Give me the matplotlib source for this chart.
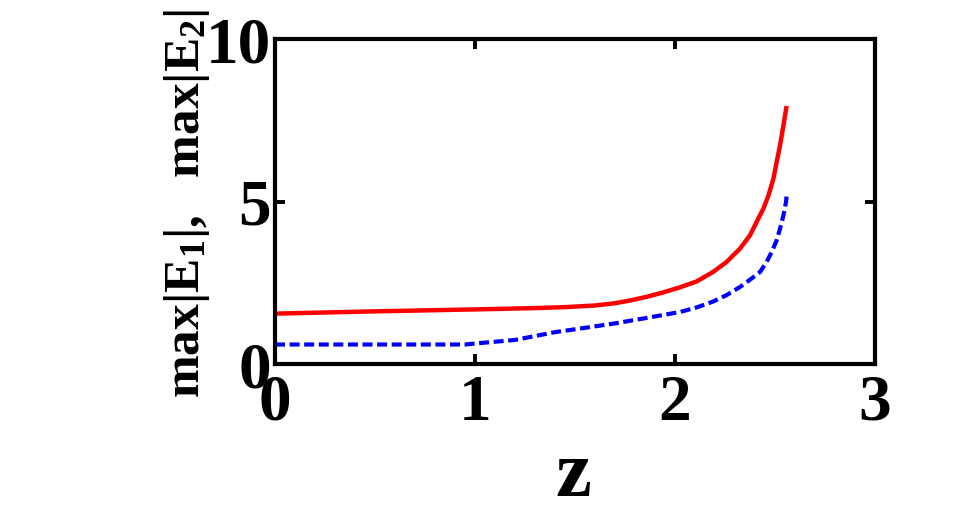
import matplotlib
matplotlib.use("Agg")
import matplotlib.pyplot as plt

# data
z_red = [0, 0.5, 1.0, 1.3, 1.45, 1.6, 1.7, 1.78, 1.86, 1.94, 2.025, 2.108, 2.19, 2.258, 2.325,
         2.375, 2.408, 2.442, 2.467, 2.492, 2.508, 2.525, 2.542, 2.558]
e1_red = [1.55, 1.62, 1.68, 1.72, 1.75, 1.8, 1.87, 1.96, 2.07, 2.2, 2.36, 2.54, 2.83, 3.14, 3.55,
          3.96, 4.37, 4.78, 5.18, 5.70, 6.2, 6.72, 7.33, 7.94]
z_blue = [0, 0.95, 1.0, 1.2, 1.4, 1.525, 1.7, 1.86, 2.025, 2.108, 2.19, 2.258, 2.325,
          2.383, 2.425, 2.458, 2.483, 2.508, 2.525, 2.542, 2.555, 2.558]
e2_blue = [0.6, 0.6, 0.63, 0.74, 0.98, 1.09, 1.25, 1.42, 1.6, 1.74, 1.92, 2.12, 2.37,
           2.63, 2.83, 3.14, 3.44, 3.80, 4.16, 4.57, 4.98, 5.18]
xticks = [0, 1, 2, 3]
yticks = [0, 5, 10]

plt.rcParams['font.family'] = ['Liberation Serif', 'DejaVu Serif']
plt.rcParams['font.weight'] = 'bold'
plt.rcParams['mathtext.fontset'] = 'custom'
plt.rcParams['mathtext.rm'] = 'Liberation Serif:bold'
plt.rcParams['mathtext.bf'] = 'Liberation Serif:bold'
plt.rcParams['mathtext.it'] = 'Liberation Serif:bold'

fig = plt.figure(figsize=(9.63, 5.11), dpi=100)
ax = fig.add_axes([275/963, 1-364/511, 600/963, 325/511])

ax.plot(z_red, e1_red, color='#ff0000', lw=3.2, solid_capstyle='butt',
        solid_joinstyle='round')
ax.plot(z_blue, e2_blue, color='#0000ff', lw=3.0, dashes=(2.4, 1.1),
        dash_capstyle='butt')

ax.set_xlim(0, 3)
ax.set_ylim(0, 10)
ax.set_xticks(xticks)
ax.set_yticks(yticks)
ax.set_xticklabels([str(t) for t in xticks])
ax.set_yticklabels([str(t) for t in yticks])
ax.tick_params(direction='in', length=7, width=2.8, labelsize=47,
               top=True, right=True)
ax.tick_params(axis='x', pad=7)
ax.tick_params(axis='y', pad=3)
for lab in ax.get_xticklabels() + ax.get_yticklabels():
    lab.set_fontweight('bold')
for s in ax.spines.values():
    s.set_linewidth(3.0)

fig.text(573/963, 1-476/511, 'z', fontsize=58, fontweight='bold',
         ha='center', va='center')
fig.text(187/963, 1-203/511, r'$\mathbf{max}|\mathbf{E}_1|,\ \ \mathbf{max}|\mathbf{E}_2|$',
         fontsize=37, rotation=90, ha='center', va='center')

fig.savefig('out.png', dpi=100)
